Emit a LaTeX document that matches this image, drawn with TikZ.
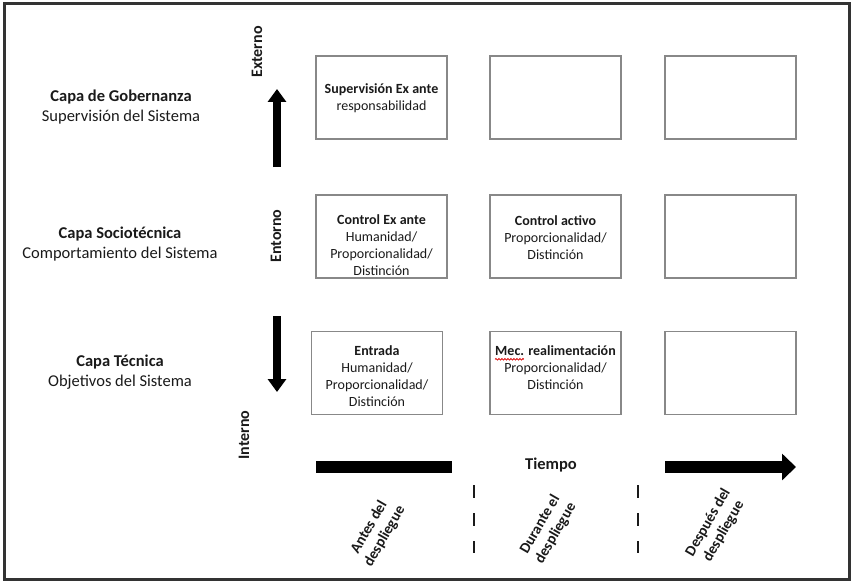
\documentclass[tikz,border=0pt]{standalone}
\usepackage{fontspec}
\setmainfont{Carlito}
\usetikzlibrary{arrows.meta,decorations.pathmorphing,calc}

\definecolor{ink}{HTML}{1A1A1A}
\definecolor{boxline}{HTML}{888888}
\definecolor{framecol}{HTML}{333333}

\newlength\mecw

\begin{document}
% width of the flagged abbreviation, measured in the cell title font
\settowidth\mecw{\bfseries\fontsize{14}{17}\selectfont Mec.}%
\begin{tikzpicture}[x=1pt,y=-1pt,
  cell/.style={draw=boxline, line width=1.5pt, minimum width=131pt, minimum height=83pt, inner sep=0pt},
  celltext/.style={align=center, text=ink, font=\fontsize{14}{17}\selectfont, inner sep=0pt},
  layer/.style={align=center, text=ink, font=\fontsize{16.5}{20}\selectfont, inner sep=0pt},
  axislabel/.style={rotate=90, text=ink, font=\bfseries\fontsize{16}{19}\selectfont, inner sep=0pt},
  phase/.style={rotate=60, align=center, text=ink, font=\bfseries\fontsize{15}{18}\selectfont, inner sep=0pt},
  bigarrow/.style={line width=8pt, draw=black, -{Triangle[width=18pt,length=13pt]}},
  timebar/.style={line width=12pt, draw=black},
  sep/.style={draw=ink, line width=2.5pt, dash pattern=on 13pt off 15pt},
  spell/.style={draw=red!85!black, line width=0.8pt, decorate, decoration={snake, amplitude=0.8pt, segment length=3pt}},
]
\useasboundingbox (0,0) rectangle (853,583);

% outer frame
\draw[framecol, line width=3pt] (4,4) rectangle (849,579);

% layer titles
\node[layer] (gob) at (121,107) {\textbf{Capa de Gobernanza}\\Supervisión del Sistema};
\node[layer] (soc) at (120,244) {\textbf{Capa Sociotécnica}\\Comportamiento del Sistema};
\node[layer] (tec) at (120,372) {\textbf{Capa Técnica}\\Objetivos del Sistema};

% vertical axis labels and arrows
\node[axislabel] (ext) at (257,52) {Externo};
\node[axislabel] (ent) at (276,236) {Entorno};
\node[axislabel] (int) at (244,435) {Interno};

\coordinate (upS) at (277,167);
\coordinate (upE) at (277,89);
\draw[bigarrow] (upS) -- (upE);
\coordinate (dnS) at (277,316);
\coordinate (dnE) at (277,392);
\draw[bigarrow] (dnS) -- (dnE);

% grid of cells
\node[cell] (b11) at (381.5,97.5) {};
\node[cell] (b12) at (555.5,97.5) {};
\node[cell] (b13) at (730.5,97.5) {};
\node[cell] (b21) at (381.5,236.5) {};
\node[cell] (b22) at (555.5,236.5) {};
\node[cell] (b23) at (730.5,236.5) {};
\node[cell] (b31) at (377,373) {};
\node[cell] (b32) at (555.5,373) {};
\node[cell] (b33) at (730.5,373) {};

% cell contents
\node[celltext] (t11) at (381.5,98) {\textbf{Supervisión Ex ante}\\responsabilidad};
\node[celltext] (t21) at (381.5,245) {\textbf{Control Ex ante}\\Humanidad/\\Proporcionalidad/\\Distinción};
\node[celltext] (t22) at (555.5,238) {\textbf{Control activo}\\Proporcionalidad/\\Distinción};
\node[celltext] (t31) at (377,376) {\textbf{Entrada}\\Humanidad/\\Proporcionalidad/\\Distinción};
\node[celltext] (t32) at (555.5,368) {\textbf{Mec. realimentación}\\Proporcionalidad/\\Distinción};

% spell-check mark under the abbreviation
\coordinate (mecA) at ($(t32.north west)+(0,13.5)$);
\draw[spell] (mecA) -- ++(\mecw,0pt);

% time axis
\coordinate (tb0) at (316,467);
\coordinate (tb1) at (452,467);
\draw[timebar] (tb0) -- (tb1);
\node[text=ink, font=\bfseries\fontsize{16.5}{20}\selectfont, inner sep=0pt] (tiempo) at (551,465) {Tiempo};
\coordinate (ta0) at (665,467);
\coordinate (ta1) at (796,467);
\draw[timebar, -{Triangle[width=26pt,length=14pt]}] (ta0) -- (ta1);

% phase separators
\coordinate (s1a) at (474,485);
\coordinate (s1b) at (474,553);
\coordinate (s2a) at (638,485);
\coordinate (s2b) at (638,553);
\draw[sep] (s1a) -- (s1b);
\draw[sep] (s2a) -- (s2b);

% phase labels
\node[phase] (pa) at (377,532) {Antes del\\despliegue};
\node[phase] (pd) at (548,529) {Durante el\\despliegue};
\node[phase] (pp) at (716,527) {Después del\\despliegue};

\end{tikzpicture}
\end{document}
